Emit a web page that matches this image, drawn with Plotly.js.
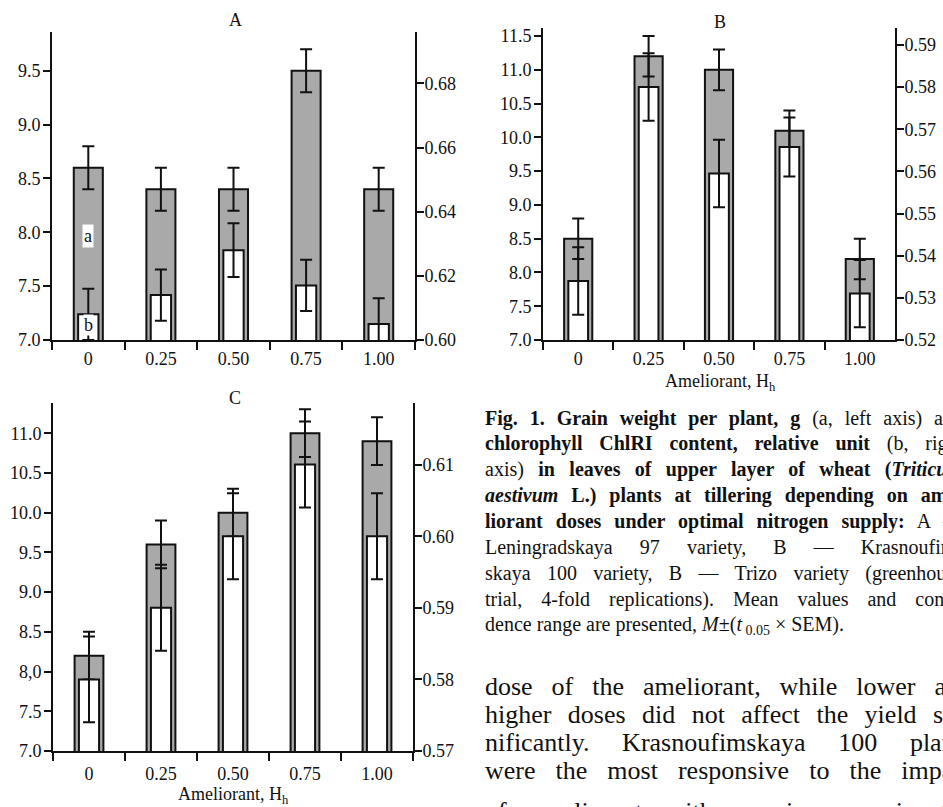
<!DOCTYPE html>
<html><head><meta charset="utf-8">
<script src="https://cdn.plot.ly/plotly-3.0.1.min.js"></script>
<style>html,body{margin:0;padding:0;background:#fff}#chart{width:943px;height:807px}</style>
</head><body><div id="chart"></div>
<script>
// ---- data ----
const categories = ["0", "0.25", "0.50", "0.75", "1.00"];

const grainA    = [8.6, 8.4, 8.4, 9.5, 8.4];
const grainErrA = [0.2, 0.2, 0.2, 0.2, 0.2];
const chlA      = [0.608, 0.614, 0.628, 0.617, 0.605];
const chlErrA   = [0.008, 0.008, 0.0084, 0.008, 0.008];

const grainB    = [8.5, 11.2, 11.0, 10.1, 8.2];
const grainErrB = [0.3, 0.3, 0.3, 0.3, 0.3];
const chlB      = [0.534, 0.580, 0.5595, 0.5658, 0.531];
const chlErrB   = [0.008, 0.008, 0.008, 0.007, 0.008];

const grainC    = [8.2, 9.6, 10.0, 11.0, 10.9];
const grainErrC = [0.3, 0.3, 0.3, 0.3, 0.3];
const chlC      = [0.580, 0.590, 0.600, 0.610, 0.600];
const chlErrC   = [0.006, 0.006, 0.006, 0.006, 0.006];

const leftTicksA = [7.0, 7.5, 8.0, 8.5, 9.0, 9.5];
const leftTextA  = ["7.0", "7.5", "8.0", "8.5", "9.0", "9.5"];
const rightTicksA = [0.60, 0.62, 0.64, 0.66, 0.68];
const rightTextA  = ["0.60", "0.62", "0.64", "0.66", "0.68"];

const leftTicksB = [7.0, 7.5, 8.0, 8.5, 9.0, 9.5, 10.0, 10.5, 11.0, 11.5];
const leftTextB  = ["7.0", "7.5", "8.0", "8.5", "9.0", "9.5", "10.0", "10.5", "11.0", "11.5"];
const rightTicksB = [0.52, 0.53, 0.54, 0.55, 0.56, 0.57, 0.58, 0.59];
const rightTextB  = ["0.52", "0.53", "0.54", "0.55", "0.56", "0.57", "0.58", "0.59"];

const leftTicksC = [7.0, 7.5, 8.0, 8.5, 9.0, 9.5, 10.0, 10.5, 11.0];
const leftTextC  = ["7.0", "7.5", "8,0", "8.5", "9.0", "9.5", "10.0", "10.5", "11.0"];
const rightTicksC = [0.57, 0.58, 0.59, 0.60, 0.61];
const rightTextC  = ["0.57", "0.58", "0.59", "0.60", "0.61"];

const captionLines = [
  "<b>Fig. 1. Grain weight per plant, g</b> (a, left axis) and",
  "<b>chlorophyll ChlRI content, relative unit</b> (b, right",
  "axis) <b>in leaves of upper layer of wheat (<i>Triticum</i></b>",
  "<b><i>aestivum</i> L.) plants at tillering depending on ame-</b>",
  "<b>liorant doses under optimal nitrogen supply:</b> A —",
  "Leningradskaya 97 variety, B — Krasnoufim-",
  "skaya 100 variety, B — Trizo variety (greenhouse",
  "trial, 4-fold replications). Mean values and confi-",
  "dence range are presented, <i>M</i>±(<i>t</i><sub> 0.05</sub> × SEM)."
];
const bodyLines = [
  "dose of the ameliorant, while lower and",
  "higher doses did not affect the yield sig-",
  "nificantly. Krasnoufimskaya 100 plants",
  "were the most responsive to the impact",
  "of ameliorant with an increase in the"
];

// ---- helpers ----
const W = 943, H = 807;
const px = v => v / W;
const py = v => 1 - v / H;
const FONT = "Liberation Serif, Times New Roman, serif";
const GRAY = "#a9a9a9";
const INK = "#111111";

function barPair(x, yl, yr, g, ge, c, ce) {
  return [
    { type: "bar", x: categories, y: g, xaxis: x, yaxis: yl, width: 0.40,
      marker: { color: GRAY, line: { color: INK, width: 2 } },
      error_y: { type: "data", array: ge, visible: true, color: INK, thickness: 2, width: 6 },
      showlegend: false, hoverinfo: "none" },
    { type: "bar", x: categories, y: c, xaxis: x, yaxis: yr, width: 0.28,
      marker: { color: "#ffffff", line: { color: INK, width: 2 } },
      error_y: { type: "data", array: ce, visible: true, color: INK, thickness: 2, width: 6 },
      showlegend: false, hoverinfo: "none" }
  ];
}

const data = [
  ...barPair("x", "y", "y2", grainA, grainErrA, chlA, chlErrA),
  ...barPair("x2", "y3", "y4", grainB, grainErrB, chlB, chlErrB),
  ...barPair("x3", "y5", "y6", grainC, grainErrC, chlC, chlErrC)
];

const tickFont = { family: FONT, size: 18, color: INK };
function xAxis(dom, anchor, standoff) {
  return { domain: dom, anchor: anchor, type: "category", range: [-0.5, 4.5],
    tickson: "boundaries", ticks: "outside", ticklen: 8, tickwidth: 2, tickcolor: INK,
    showline: true, linecolor: INK, linewidth: 2, showgrid: false, zeroline: false,
    tickfont: tickFont, fixedrange: true, ticklabelstandoff: standoff };
}
function yAxis(dom, anchor, range, tv, tt, side, overlay) {
  const a = { domain: dom, anchor: anchor, range: range, tickvals: tv, ticktext: tt,
    ticks: "outside", ticklen: 7, tickwidth: 2, tickcolor: INK,
    showline: true, linecolor: INK, linewidth: 2, showgrid: false, zeroline: false,
    tickfont: tickFont, side: side, fixedrange: true,
    ticklabelstandoff: side === "right" ? -3 : -1 };
  if (overlay) { a.overlaying = overlay; delete a.domain; }
  return a;
}

const domXA = [px(52), px(415)], domYA = [py(340), py(32)];
const domXB = [px(543), px(895)], domYB = [py(340), py(28)];
const domXC = [px(53), px(413)], domYC = [py(751), py(403)];

const annotations = [];
function txt(x, y, text, size, extra) {
  annotations.push(Object.assign({ xref: "paper", yref: "paper", x: px(x), y: py(y),
    text: text, showarrow: false, font: { family: FONT, size: size, color: INK },
    xanchor: "center", yanchor: "middle" }, extra || {}));
  return annotations.length - 1;
}
txt(235, 20, "A", 18);
txt(720, 22, "B", 18);
txt(235, 398, "C", 18);
txt(720, 382, "Ameliorant, H<sub>h</sub>", 18);
txt(233, 795, "Ameliorant, H<sub>h</sub>", 18);

annotations.push({ xref: "x", yref: "y", x: "0", y: 7.97, text: "a", showarrow: false,
  bgcolor: "#ffffff", borderpad: 1, font: { family: FONT, size: 18, color: INK } });
annotations.push({ xref: "x", yref: "y", x: "0", y: 7.14, text: "b", showarrow: false,
  bgcolor: "#ffffff", borderpad: 0, font: { family: FONT, size: 18, color: INK } });

// caption and body lines (justified to the text column, which is cut by the picture edge)
const justify = {};
const capY0 = 418, capDy = 25.9;
captionLines.forEach((t, i) => {
  const k = txt(483, capY0 + i * capDy, t, 20, { xanchor: "left", align: "left" });
  if (i < captionLines.length - 1) justify[k] = 478;
});
const bodyYs = [686, 714, 742, 770, 811];
bodyLines.forEach((t, i) => {
  const k = txt(483, bodyYs[i], t, 26, { xanchor: "left", align: "left" });
  justify[k] = 487;
});

const layout = {
  width: W, height: H, margin: { l: 0, r: 0, t: 0, b: 0 },
  paper_bgcolor: "#ffffff", plot_bgcolor: "rgba(0,0,0,0)",
  barmode: "overlay", showlegend: false, font: { family: FONT, color: INK },
  xaxis:  xAxis(domXA, "y", 1),
  yaxis:  yAxis(domYA, "x", [7, 9.86], leftTicksA, leftTextA, "left"),
  yaxis2: yAxis(domYA, "x", [0.60, 0.696], rightTicksA, rightTextA, "right", "y"),
  xaxis2: xAxis(domXB, "y3", 1),
  yaxis3: yAxis(domYB, "x2", [7, 11.62], leftTicksB, leftTextB, "left"),
  yaxis4: yAxis(domYB, "x2", [0.52, 0.594], rightTicksB, rightTextB, "right", "y3"),
  xaxis3: xAxis(domXC, "y5", 5),
  yaxis5: yAxis(domYC, "x3", [7, 11.38], leftTicksC, leftTextC, "left"),
  yaxis6: yAxis(domYC, "x3", [0.57, 0.6186], rightTicksC, rightTextC, "right", "y5"),
  annotations: annotations
};

Plotly.newPlot("chart", data, layout, { displayModeBar: false, staticPlot: true }).then(gd => {
  Object.keys(justify).forEach(k => {
    const g = gd.querySelector('.annotation[data-index="' + k + '"] text.annotation-text');
    if (!g) return;
    const w = g.getComputedTextLength();
    const spaces = (g.textContent.match(/ /g) || []).length;
    const target = justify[k];
    if (spaces > 0 && w < target) {
      g.style.wordSpacing = ((target - w) / spaces).toFixed(2) + "px";
    }
  });
});
</script></body></html>
